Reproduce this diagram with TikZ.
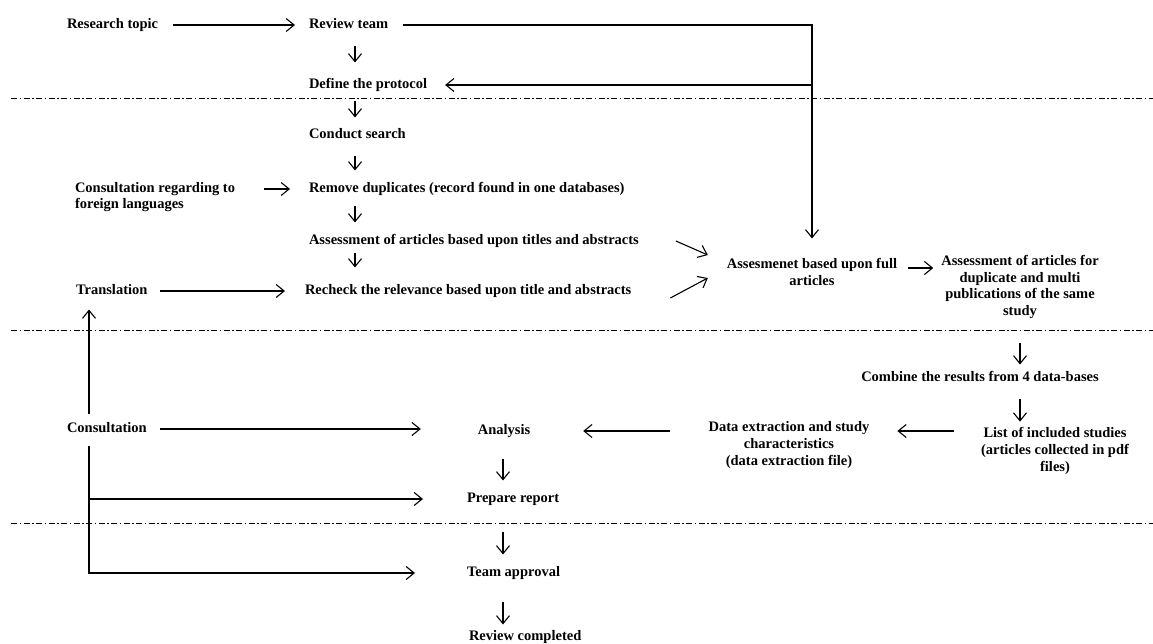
\documentclass[tikz,border=0pt]{standalone}
\usepackage{fontspec}
\setmainfont{Liberation Serif}
\usetikzlibrary{arrows.meta}

\begin{document}
\begin{tikzpicture}[x=1pt, y=-1pt,
  every node/.style={font=\bfseries\fontsize{14.5}{16.7}\selectfont, inner sep=0pt, outer sep=0pt, yshift=-2pt},
  lbl/.style={anchor=west, text height=10pt, text depth=3pt},
  blk/.style={align=center},
  flow/.style={-{Straight Barb[length=8pt,width=13pt]}, line width=1.1pt},
  sep/.style={line width=0.8pt, dash pattern=on 6pt off 2.5pt on 1.5pt off 2.5pt}]
\useasboundingbox (0,0) rectangle (1153,644);

% columns of the short arrows
\coordinate (c1) at (355,0);
\coordinate (c2) at (1020,0);
\coordinate (c3) at (89,0);
\coordinate (c4) at (503,0);

\node[lbl] (topic) at (67,23) {Research topic};
\node[lbl] (team) at (309,23) {Review team};
\node[lbl] (protocol) at (309,83) {Define the protocol};
\node[lbl] (search) at (309,133) {Conduct search};
\node[lbl] (dupl) at (309,187) {Remove duplicates (record found in one databases)};
\node[anchor=west, align=left] (foreign) at (75,195) {Consultation regarding to\\foreign languages};
\node[lbl] (titles) at (309,239) {Assessment of articles based upon titles and abstracts};
\node[lbl] (recheck) at (305,289) {Recheck the relevance based upon title and abstracts};
\node[lbl] (transl) at (76,289) {Translation};
\node[blk] (full) at (812,270) {Assesmenet based upon full\\articles};
\node[blk] (multi) at (1020,285) {Assessment of articles for\\duplicate and multi\\publications of the same\\study};
\node[lbl, anchor=center] (combine) at (980,376) {Combine the results from 4 data-bases};
\node[blk] (included) at (1055,449) {List of included studies\\(articles collected in pdf\\files)};
\node[blk] (extract) at (789,443) {Data extraction and study\\characteristics\\(data extraction file)};
\node[lbl, anchor=center] (analysis) at (504,429) {Analysis};
\node[lbl] (consult) at (67,427) {Consultation};
\node[lbl] (report) at (467,497) {Prepare report};
\node[lbl] (approval) at (467,571) {Team approval};
\node[lbl] (completed) at (469,635) {Review completed};

% stage separators
\draw[sep] (11,98) -- (1153,98);
\draw[sep] (11,330) -- (1153,330);
\draw[sep] (11,523) -- (1153,523);

\draw[flow, shorten <=15pt, shorten >=14pt] (topic) -- (team);
\draw[flow, shorten <=15pt, shorten >=20pt] (team) -| (full);
\draw[flow, shorten >=18pt] (full |- protocol) -- (protocol);
\draw[flow, shorten <=15pt, shorten >=16pt] (team.south -| c1) -- (protocol.north -| c1);
\draw[flow, shorten <=10pt, shorten >=11pt] (protocol.south -| c1) -- (search.north -| c1);
\draw[flow, shorten <=15pt, shorten >=12pt] (search.south -| c1) -- (dupl.north -| c1);
\draw[flow, shorten <=11pt, shorten >=12pt] (dupl.south -| c1) -- (titles.north -| c1);
\draw[flow, shorten <=6pt, shorten >=17pt] (titles.south -| c1) -- (recheck.north -| c1);
\draw[flow, shorten <=29pt, shorten >=19pt] (foreign.east |- dupl) -- (dupl);
\draw[flow, shorten <=13pt, shorten >=20pt] (transl) -- (recheck);
\draw[flow] ([xshift=37pt]titles.east) -- ([xshift=-19pt, yshift=17pt]full.west);
\draw[flow] ([xshift=39pt, yshift=-7pt]recheck.east) -- ([xshift=-19pt, yshift=-6pt]full.west);
\draw[flow, shorten <=11pt, shorten >=8pt] ([yshift=4pt]full.east) -- ([yshift=4pt]full.east -| multi.west);
\draw[flow, shorten <=24pt, shorten >=7pt] (multi.south -| c2) -- (combine.north -| c2);
\draw[flow, shorten <=14pt, shorten >=6pt] (combine.south -| c2) -- (included.north -| c2);
\draw[flow, shorten <=27pt, shorten >=28pt] ([yshift=20pt]included.west) -- ([yshift=20pt]included.west -| extract.east);
\draw[flow, shorten <=39pt, shorten >=53pt] (extract.west |- analysis) -- (analysis);
\draw[flow, shorten <=13pt, shorten >=57pt] (consult) -- (consult -| analysis.west);
\draw[flow, shorten <=9pt, shorten >=12pt] (consult.north -| c3) -- (transl.south -| c3);
\draw[flow, shorten <=10pt, shorten >=52pt] (consult.south -| c3) |- (approval);
\draw[flow, shorten >=44pt] (c3 |- report) -- (report);
\draw[flow, shorten <=21pt, shorten >=12pt] (analysis.south -| c4) -- (report.north -| c4);
\draw[flow, shorten <=26pt, shorten >=12pt] (report.south -| c4) -- (approval.north -| c4);
\draw[flow, shorten <=22pt, shorten >=6pt] (approval.south -| c4) -- (completed.north -| c4);
\end{tikzpicture}
\end{document}
